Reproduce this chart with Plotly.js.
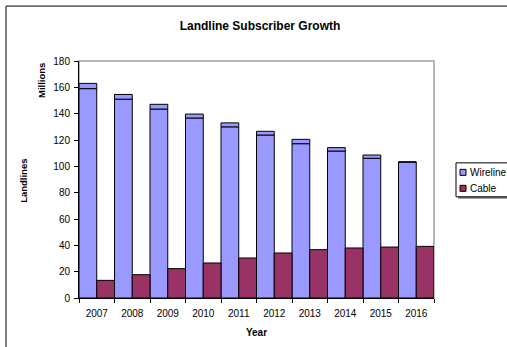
<!DOCTYPE html>
<html>
<head>
<meta charset="utf-8">
<script src="https://cdn.plot.ly/plotly-3.0.1.min.js"></script>
<style>html,body{margin:0;padding:0;background:#fff;}#chart{width:507px;height:347px;}</style>
</head>
<body>
<div id="chart"></div>
<script>
const years = ['2007','2008','2009','2010','2011','2012','2013','2014','2015','2016'];
const wirelineLower = [159, 151, 143.5, 136.7, 130, 123.8, 117.2, 111.6, 106.1, 103.3];
const wirelineUpper = [4, 3.6, 3.6, 3, 3, 2.8, 3.3, 2.6, 2.5, 0];
const cable = [13.4, 17.7, 22.3, 26.6, 30.4, 34.2, 36.7, 38, 38.7, 39.2];
const seriesNames = ['Wireline', 'Cable'];
const seriesColors = ['#9999FF', '#993366'];
const yTicks = [0, 20, 40, 60, 80, 100, 120, 140, 160, 180];

// plot area in pixels
const L = 79, R = 434, T = 61, B = 298.3;
const W = 507, H = 347;
const px = x => (x - L) / (R - L);
const py = y => (B - y) / (B - T);

const font = 'Liberation Sans, Arial, sans-serif';
const outline = {color: '#000', width: 1};

const traces = [
  {type: 'bar', x: years, y: wirelineLower, offset: -0.5, width: 0.5,
   marker: {color: seriesColors[0], line: outline}, name: seriesNames[0], showlegend: false, hoverinfo: 'x+y'},
  {type: 'bar', x: years, y: wirelineUpper, base: wirelineLower, offset: -0.5, width: 0.5,
   marker: {color: seriesColors[0], line: outline}, name: seriesNames[0], showlegend: false, hoverinfo: 'x+y'},
  {type: 'bar', x: years, y: cable, offset: 0, width: 0.5,
   marker: {color: seriesColors[1], line: outline}, name: seriesNames[1], showlegend: false, hoverinfo: 'x+y'}
];

const shapes = [
  // outer chart frame
  {type: 'rect', xref: 'paper', yref: 'paper', x0: px(6), x1: px(W + 5), y0: py(H + 5), y1: py(6),
   line: {color: '#000', width: 1}, fillcolor: 'rgba(0,0,0,0)', layer: 'below'},
  // plot area border
  {type: 'rect', xref: 'paper', yref: 'paper', x0: 0, x1: 1, y0: 0, y1: 1,
   line: {color: '#a0a0a0', width: 1.5}, fillcolor: 'rgba(0,0,0,0)', layer: 'below'},
  // legend shadow
  {type: 'rect', xref: 'paper', yref: 'paper', x0: px(458), x1: px(W + 5), y0: py(199), y1: py(165),
   line: {width: 0}, fillcolor: '#808080', layer: 'above'},
  // legend box
  {type: 'rect', xref: 'paper', yref: 'paper', x0: px(456), x1: px(W + 5), y0: py(197), y1: py(163),
   line: {color: '#000', width: 1}, fillcolor: '#fff', layer: 'above'}
];

const legendRows = [172.5, 188.5];
const annotations = [
  {text: '<b>Landlines</b>', xref: 'paper', yref: 'paper', x: px(24), y: py(181), textangle: -90,
   showarrow: false, xanchor: 'center', yanchor: 'middle', font: {family: font, size: 9.5, color: '#000'}},
  {text: '<b>Millions</b>', xref: 'paper', yref: 'paper', x: px(42), y: py(81), textangle: -90,
   showarrow: false, xanchor: 'center', yanchor: 'middle', font: {family: font, size: 9.5, color: '#000'}}
];
seriesNames.forEach((name, i) => {
  const cy = legendRows[i];
  shapes.push({type: 'rect', xref: 'paper', yref: 'paper', x0: px(460), x1: px(466), y0: py(cy + 3), y1: py(cy - 3),
    line: {color: '#000', width: 1}, fillcolor: seriesColors[i], layer: 'above'});
  annotations.push({text: name, xref: 'paper', yref: 'paper', x: px(468), y: py(cy), showarrow: false,
    xanchor: 'left', yanchor: 'middle', font: {family: font, size: 10, color: '#000'}});
});

const layout = {
  width: W, height: H,
  margin: {l: L, r: W - R, t: T, b: H - B, pad: 0},
  paper_bgcolor: '#fff', plot_bgcolor: '#fff',
  barmode: 'overlay',
  showlegend: false,
  title: {text: '<b>Landline Subscriber Growth</b>', x: 260 / W, xanchor: 'center', y: 1 - 25.5 / H, yanchor: 'middle',
    font: {family: font, size: 12, color: '#000'}},
  font: {family: font, size: 10, color: '#000'},
  xaxis: {type: 'category', range: [-0.5, 9.5], tickson: 'boundaries', ticks: 'outside', ticklen: 4,
    tickcolor: '#000', showline: true, linecolor: '#000', linewidth: 1, showgrid: false, zeroline: false,
    ticklabelstandoff: 6,
    tickfont: {family: font, size: 10, color: '#000'},
    title: {text: '<b>Year</b>', font: {family: font, size: 10, color: '#000'}, standoff: 10}},
  yaxis: {range: [0, 180], tickvals: yTicks, ticks: 'outside', ticklen: 4, tickcolor: '#000',
    showline: true, linecolor: '#000', linewidth: 1, showgrid: false, zeroline: false,
    ticklabelstandoff: 2,
    tickfont: {family: font, size: 10, color: '#000'}},
  shapes: shapes,
  annotations: annotations
};

Plotly.newPlot('chart', traces, layout, {displayModeBar: false, staticPlot: true});
</script>
</body>
</html>
